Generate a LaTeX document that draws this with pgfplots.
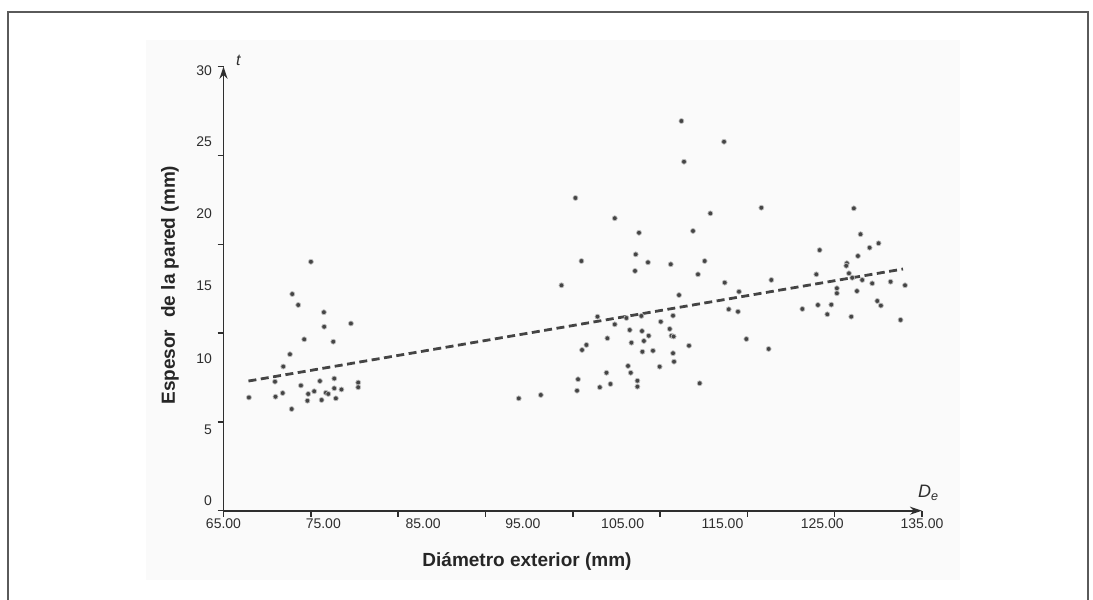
\documentclass[border=0pt]{standalone}
\usepackage{fontspec}
\setmainfont{Liberation Sans}
\usepackage{pgfplots}
\pgfplotsset{compat=1.18}
\usetikzlibrary{arrows.meta}
\definecolor{axisgray}{HTML}{2E2E2E}
\definecolor{ptgray}{HTML}{444444}
\definecolor{halogray}{HTML}{BDBDBD}
\definecolor{bggray}{HTML}{FAFAFA}
\definecolor{framegray}{HTML}{5A5A5A}
\definecolor{linegray}{HTML}{444444}
\begin{document}
\begin{tikzpicture}[x=1pt,y=1pt]
\path[use as bounding box, fill=white] (0,0) rectangle (1093,600);
\fill[bggray] (146,20) rectangle (960,560);
\draw[framegray, line width=2pt] (8,-2) -- (8,588) -- (1088,588) -- (1088,-2);
\begin{axis}[
  at={(223.5pt,89.3pt)}, anchor=south west,
  scale only axis, width=698.5pt, height=444pt,
  xmin=65, xmax=135, ymin=0, ymax=30,
  clip=false,
  axis lines=left,
  axis line style={axisgray, line width=1.7pt, -{Stealth[length=12pt,width=8pt]}},
  tick align=outside,
  major tick length=6pt,
  tick style={axisgray, line width=1.5pt},
  xtick={65,73.75,82.5,91.25,100,108.75,117.5,126.25,135},
  xticklabels={},
  ytick={0,6,12,18,24,30},
  yticklabels={},
  extra x ticks={65,75,85,95,105,115,125,135},
  extra x tick labels={65.00,75.00,85.00,95.00,105.00,115.00,125.00,135.00},
  extra y ticks={0.68,5.47,10.25,15.2,20.1,24.9,29.7},
  extra y tick labels={0,5,10,15,20,25,30},
  extra x tick style={major tick length=0pt},
  extra y tick style={major tick length=0pt},
  every tick label/.append style={font=\fontsize{14}{16}\selectfont, text=axisgray},
  yticklabel style={xshift=-8pt},
  xticklabel style={yshift=-4pt},
  xlabel={Diámetro exterior (mm)},
  ylabel={Espesor\hspace{0.35em} de la pared (mm)},
  xlabel style={at={(axis description cs:0.4345,-0.1155)}, anchor=center, font=\fontsize{19}{22}\selectfont\bfseries, text=black!85},
  ylabel style={at={(axis description cs:-0.0766,0.508)}, anchor=center, font=\fontsize{19}{22}\selectfont\bfseries, text=black!85},
]
\addplot[only marks, mark=*, mark size=2.5pt, mark options={fill=ptgray, draw=halogray, line width=0.7pt}] table {
x y
73.76 16.82
71.89 14.64
72.49 13.90
75.06 13.41
75.09 12.43
77.77 12.65
73.09 11.58
76.00 11.42
71.66 10.57
70.99 9.74
67.55 7.65
70.16 8.72
70.21 7.70
70.93 7.95
72.76 8.46
71.83 6.87
73.41 7.43
73.49 7.89
74.09 8.07
74.66 8.76
74.83 7.48
75.26 7.97
75.50 7.89
76.10 8.93
76.10 8.27
76.26 7.59
76.82 8.19
78.50 8.66
78.50 8.34
94.59 7.59
96.80 7.82
100.27 21.13
104.21 19.76
106.64 18.78
113.79 20.09
112.05 18.90
100.87 16.87
106.31 17.32
107.54 16.78
106.24 16.20
109.82 16.65
113.22 16.87
112.55 15.97
98.87 15.23
110.65 14.57
102.48 13.11
104.21 12.59
105.38 13.02
106.88 13.16
110.05 13.18
108.82 12.77
105.71 12.21
106.94 12.14
109.72 12.28
107.61 11.82
109.89 11.82
110.11 11.77
103.47 11.65
107.13 11.47
105.88 11.35
101.37 11.20
100.93 10.86
111.65 11.15
106.98 10.74
108.04 10.81
110.05 10.64
110.15 10.07
105.54 9.78
108.71 9.73
105.81 9.32
103.38 9.32
100.53 8.88
106.48 8.78
103.78 8.56
102.71 8.34
106.48 8.38
100.43 8.11
112.72 8.61
110.89 26.33
115.16 24.93
111.15 23.58
118.90 20.47
128.17 20.43
128.84 18.68
130.65 18.07
129.75 17.77
124.74 17.61
128.58 17.21
127.47 16.72
127.41 16.55
124.41 15.97
127.68 16.04
115.23 15.41
119.90 15.59
116.66 14.80
128.01 15.74
129.01 15.59
130.01 15.36
131.85 15.47
133.30 15.23
126.47 15.03
126.47 14.69
128.48 14.84
115.63 13.61
116.56 13.45
123.01 13.63
124.57 13.90
125.91 13.92
125.51 13.27
130.52 14.17
130.88 13.86
127.91 13.11
132.85 12.89
117.40 11.60
119.63 10.93
};
\addplot[linegray, line width=2.8pt, dash pattern=on 8pt off 4.5pt] coordinates {(67.5,8.76) (133.1,16.33)};
\node[font=\fontsize{16}{18}\selectfont\itshape, text=axisgray] at (axis description cs:0.0212,1.015) {t};
\node[font=\fontsize{18}{20}\selectfont\itshape, text=axisgray] at (axis description cs:1.009,0.040) {D\textsubscript{e}};
\end{axis}
\end{tikzpicture}
\end{document}
